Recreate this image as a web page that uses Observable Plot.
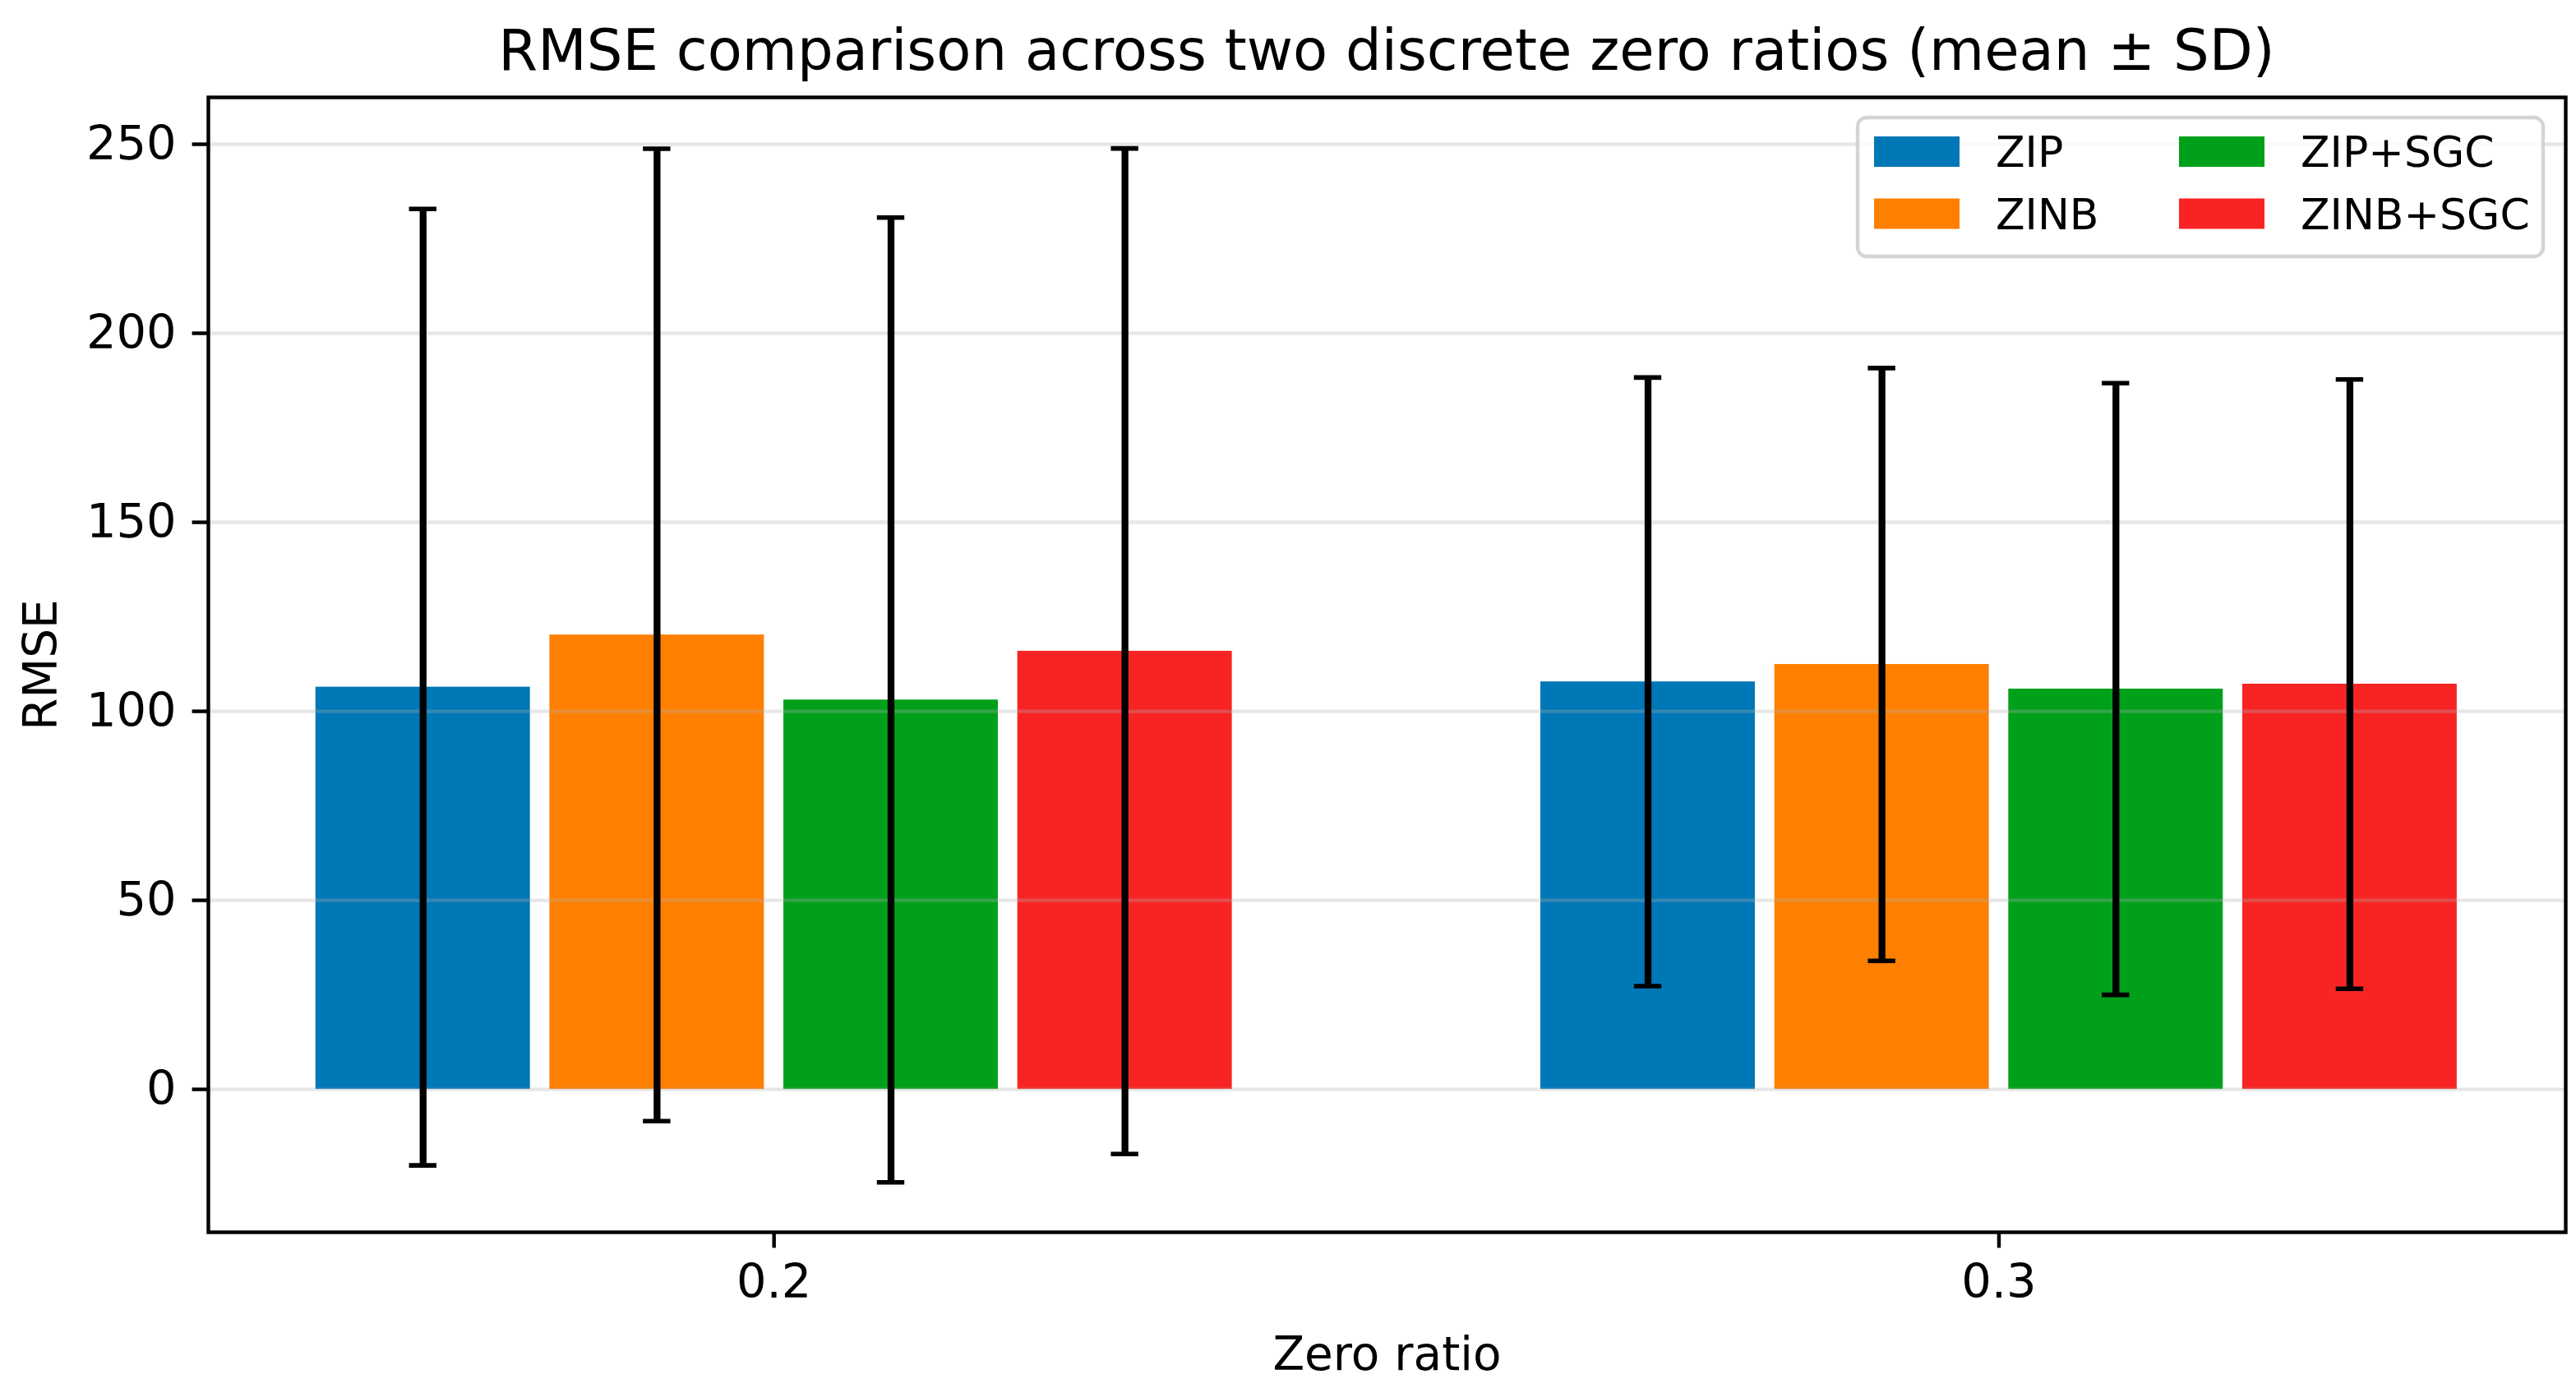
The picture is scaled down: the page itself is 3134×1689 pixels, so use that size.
<!DOCTYPE html>
<html>
<head>
<meta charset="utf-8">
<script src="https://cdn.jsdelivr.net/npm/d3@7"></script>
<script src="https://cdn.jsdelivr.net/npm/@observablehq/plot@0.6"></script>
<style>
  html, body { margin: 0; padding: 0; background: #ffffff; }
  #wrap { position: relative; width: 3134px; height: 1689px; overflow: hidden; font-family: "DejaVu Sans", sans-serif; }
  #title { position: absolute; left: 253px; width: 2868px; top: 27px; text-align: center; font-size: 68.9px; line-height: 68.9px; color: #000; white-space: nowrap; }
  #chart { position: absolute; left: 0; top: 100px; }
  #legend { position: absolute; left: 0; top: 0; pointer-events: none; }
</style>
</head>
<body>
<div id="wrap">
  <div id="title">RMSE comparison across two discrete zero ratios (mean ± SD)</div>
  <div id="chart"></div>
</div>
<script>
// ---- data ----
const ratios = [0.2, 0.3];
const models = ["ZIP", "ZINB", "ZIP+SGC", "ZINB+SGC"];
const colors = ["#0077b7", "#ff7f00", "#00a01a", "#f82424"];
const meanAt02 = [106.4, 120.2, 103.0, 115.9];
const sdAt02   = [126.5, 128.6, 127.6, 133.0];
const meanAt03 = [107.8, 112.4, 105.9, 107.2];
const sdAt03   = [80.5, 78.4, 80.9, 80.6];
const yTicks = [0, 50, 100, 150, 200, 250];
const xTickLabels = ["0.2", "0.3"];

// ---- layout ----
const step = 0.0191, barW = 0.01751, capHalf = 0.00112;
const means = [meanAt02, meanAt03], sds = [sdAt02, sdAt03];
const rows = [];
ratios.forEach((r, gi) => models.forEach((m, i) => {
  rows.push({ratio: r, model: m, idx: i, mean: means[gi][i], sd: sds[gi][i],
             cx: r + (i - 1.5) * step});
}));

const W = 3134, H = 1589;
const fsTick = 57.5, fsLabel = 56.5, fsLegend = 52;
const plot = Plot.plot({
  width: W, height: H,
  marginLeft: 253, marginRight: 13, marginTop: 18, marginBottom: 190,
  style: {fontFamily: "DejaVu Sans, sans-serif", background: "#ffffff", color: "#000"},
  x: {type: "linear", domain: [0.15382, 0.34627], axis: null},
  y: {domain: [-37.8, 262.4], axis: null},
  color: {domain: models, range: colors},
  marks: [
    Plot.rectY(rows, {x1: d => d.cx - barW / 2, x2: d => d.cx + barW / 2, y1: 0, y2: "mean", fill: "model"}),
    Plot.gridY(yTicks, {stroke: "#b0b0b0", strokeOpacity: 0.3, strokeWidth: 4.4}),
    Plot.ruleX(rows, {x: "cx", y1: d => d.mean - d.sd, y2: d => d.mean + d.sd, stroke: "#000", strokeWidth: 8.3}),
    Plot.ruleY(rows, {y: d => d.mean + d.sd, x1: d => d.cx - capHalf, x2: d => d.cx + capHalf, stroke: "#000", strokeWidth: 5.6}),
    Plot.ruleY(rows, {y: d => d.mean - d.sd, x1: d => d.cx - capHalf, x2: d => d.cx + capHalf, stroke: "#000", strokeWidth: 5.6}),
    Plot.axisY({ticks: yTicks, tickSize: 19.4, tickPadding: 19.4, fontSize: fsTick, label: null, strokeWidth: 4.4, anchor: "left"}),
    Plot.axisX({ticks: ratios, tickFormat: (d) => xTickLabels[ratios.indexOf(d)], tickSize: 19.4, tickPadding: 19.4, fontSize: fsTick, label: null, strokeWidth: 4.4, anchor: "bottom"}),
    Plot.frame({stroke: "#000", strokeWidth: 4.4}),
    Plot.text(["Zero ratio"], {frameAnchor: "bottom", dy: 167, lineAnchor: "bottom", textAnchor: "middle", fontSize: fsLabel, fill: "#000"}),
    Plot.text(["RMSE"], {frameAnchor: "left", dx: -203, rotate: -90, lineAnchor: "middle", textAnchor: "middle", fontSize: fsLabel, fill: "#000"})
  ]
});
document.getElementById("chart").appendChild(plot);

// ---- legend (inside plot area, upper right) ----
const ns = "http://www.w3.org/2000/svg";
const lg = document.createElementNS(ns, "svg");
lg.setAttribute("id", "legend");
lg.setAttribute("width", 3134); lg.setAttribute("height", 1689);
const box = document.createElementNS(ns, "rect");
box.setAttribute("x", 2260); box.setAttribute("y", 143);
box.setAttribute("width", 834); box.setAttribute("height", 169);
box.setAttribute("rx", 11); box.setAttribute("ry", 11);
box.setAttribute("fill", "rgba(255,255,255,0.8)");
box.setAttribute("stroke", "#d4d4d4"); box.setAttribute("stroke-width", 4.4);
lg.appendChild(box);
const colX = [2280, 2651], rowY = [166, 241.5];
models.forEach((m, i) => {
  const c = Math.floor(i / 2), r = i % 2;
  const sw = document.createElementNS(ns, "rect");
  sw.setAttribute("x", colX[c]); sw.setAttribute("y", rowY[r]);
  sw.setAttribute("width", 104); sw.setAttribute("height", 37);
  sw.setAttribute("fill", colors[i]);
  lg.appendChild(sw);
  const t = document.createElementNS(ns, "text");
  t.setAttribute("x", colX[c] + 148); t.setAttribute("y", rowY[r] + 37);
  t.setAttribute("font-size", fsLegend); t.setAttribute("font-family", "DejaVu Sans, sans-serif");
  t.setAttribute("fill", "#000");
  t.textContent = m;
  lg.appendChild(t);
});
document.getElementById("wrap").appendChild(lg);
</script>
</body>
</html>
